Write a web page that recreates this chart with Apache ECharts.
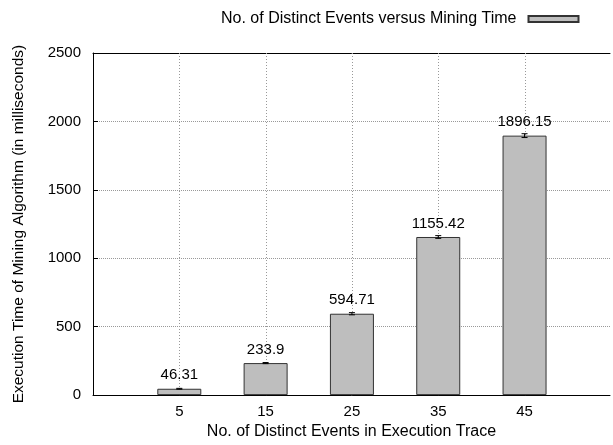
<!DOCTYPE html>
<html>
<head>
<meta charset="utf-8">
<script src="https://cdn.jsdelivr.net/npm/echarts@6/dist/echarts.min.js"></script>
<style>
  html, body { margin: 0; padding: 0; background: #fff; }
  #chart { width: 613px; height: 445px; }
</style>
</head>
<body>
<div id="chart"></div>
<script>
const categories = ['5', '15', '25', '35', '45']
const miningTime = [46.31, 233.9, 594.71, 1155.42, 1896.15]
const errors = [3, 4, 8, 10, 14]
const yTicks = [0, 500, 1000, 1500, 2000, 2500]

const font = 'Liberation Sans, Arial, Helvetica, sans-serif'
const yMax = yTicks[yTicks.length - 1]
const barData = miningTime.map((v, i) => [i, v])
const errData = miningTime.map((v, i) => [i, v, errors[i]])
const gridData = categories.map((c, i) => [i])

const chart = echarts.init(document.getElementById('chart'))

// x runs from -1 to ~5; the original plot is cut off at the right edge
chart.setOption({
  animation: false,
  textStyle: { fontFamily: font, color: '#000' },
  grid: { left: 93, top: 53, right: 0, height: 344 },
  legend: {
    left: 216, top: 6,
    align: 'right',
    icon: 'rect',
    itemWidth: 50, itemHeight: 6,
    data: ['No. of Distinct Events versus Mining Time'],
    textStyle: { fontFamily: font, fontSize: 16, color: '#000', padding: [0, 7, 0, 0] }
  },
  xAxis: [{
    type: 'value', min: -1, max: 4.99, interval: 1,
    name: 'No. of Distinct Events in Execution Trace',
    nameLocation: 'middle', nameGap: 27,
    nameTextStyle: { fontFamily: font, fontSize: 16, color: '#000' },
    axisLine: { show: true, onZero: false, lineStyle: { color: '#000', width: 1 } },
    axisTick: { show: false },
    axisLabel: {
      fontFamily: font, fontSize: 15, color: '#000', margin: 9,
      formatter: v => categories[v] !== undefined ? categories[v] : ''
    },
    splitLine: { show: false }
  }, {
    // top border only
    type: 'value', position: 'top', min: -1, max: 4.99, interval: 1,
    axisLine: { show: true, onZero: false, lineStyle: { color: '#000', width: 1 } },
    axisTick: { show: false }, axisLabel: { show: false }, splitLine: { show: false }
  }],
  yAxis: {
    type: 'value', min: yTicks[0], max: yMax, interval: 500,
    name: 'Execution Time of Mining Algorithm (in milliseconds)',
    nameLocation: 'middle', nameGap: 66, nameRotate: 90,
    nameTextStyle: { fontFamily: font, fontSize: 15.5, color: '#000' },
    axisLine: { show: true, onZero: false, lineStyle: { color: '#000', width: 1 } },
    axisTick: { show: true, inside: true, length: 5, lineStyle: { color: '#000' } },
    axisLabel: {
      fontFamily: font, fontSize: 15, color: '#000', margin: 12,
      formatter: v => String(v)
    },
    splitLine: { show: true, lineStyle: { color: '#999', type: 'dotted', width: 1 } }
  },
  series: [
    {
      // vertical dotted grid lines at each category only
      type: 'custom',
      data: gridData,
      z: 1,
      silent: true,
      renderItem: (params, api) => {
        const top = api.coord([api.value(0), yMax])
        const bot = api.coord([api.value(0), 0])
        const x = Math.round(top[0]) + 0.5
        return {
          type: 'line',
          shape: { x1: x, y1: top[1], x2: x, y2: bot[1] },
          style: { stroke: '#999', lineWidth: 1, lineDash: [1, 2] }
        }
      }
    },
    {
      name: 'No. of Distinct Events versus Mining Time',
      type: 'bar',
      data: barData,
      barWidth: 44,
      z: 2,
      itemStyle: { color: '#bebebe', borderColor: '#333', borderWidth: 1 },
      label: {
        show: true, position: 'top', distance: 6,
        fontFamily: font, fontSize: 15, color: '#000',
        formatter: p => String(p.value[1])
      }
    },
    {
      type: 'custom',
      data: errData,
      z: 5,
      renderItem: (params, api) => {
        const x = api.value(0), y = api.value(1), e = api.value(2)
        const hi = api.coord([x, y + e])
        const lo = api.coord([x, y - e])
        const style = { stroke: '#000', lineWidth: 1 }
        return {
          type: 'group',
          children: [
            { type: 'line', shape: { x1: hi[0], y1: hi[1], x2: lo[0], y2: lo[1] }, style },
            { type: 'line', shape: { x1: hi[0] - 3, y1: hi[1], x2: hi[0] + 3, y2: hi[1] }, style },
            { type: 'line', shape: { x1: lo[0] - 3, y1: lo[1], x2: lo[0] + 3, y2: lo[1] }, style }
          ]
        }
      }
    }
  ]
})
</script>
</body>
</html>
